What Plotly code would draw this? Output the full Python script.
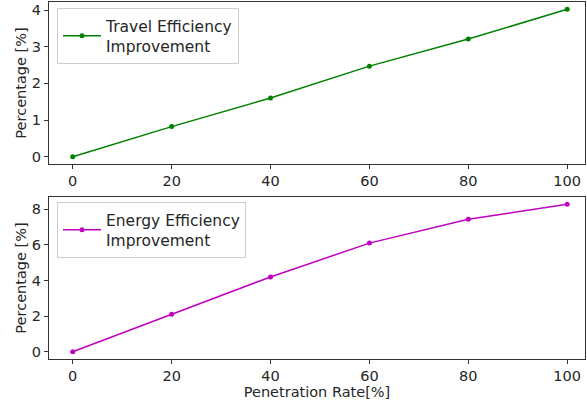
import plotly.graph_objects as go
from plotly.subplots import make_subplots

penetration = [0, 20, 40, 60, 80, 100]
travel_eff = [0.0, 0.82, 1.60, 2.47, 3.21, 4.02]
energy_eff = [0.0, 2.10, 4.20, 6.10, 7.44, 8.28]

W, H = 587, 405
L, R, T, B = 49, 2, 2, 46
ph = H - T - B
pw = W - L - R

def py(y):
    return (H - B - y) / ph

fig = make_subplots(rows=2, cols=1)
fig.add_trace(go.Scatter(x=penetration, y=travel_eff, mode="lines+markers",
                         name="Travel Efficiency<br>Improvement", showlegend=True,
                         line=dict(color="#008000", width=1.5),
                         marker=dict(size=5, color="#008000"),
                         legend="legend"), row=1, col=1)
fig.add_trace(go.Scatter(x=penetration, y=energy_eff, mode="lines+markers",
                         name="Energy Efficiency<br>Improvement", showlegend=True,
                         line=dict(color="#bf00bf", width=1.5),
                         marker=dict(size=5, color="#bf00bf"),
                         legend="legend2"), row=2, col=1)

FS = 14.5
axis_common = dict(showline=True, linecolor="#333333", linewidth=1, mirror=True,
                   ticks="outside", ticklen=4, tickcolor="#333333", showgrid=False,
                   zeroline=False, automargin=False, tickfont=dict(size=FS, color="#262626"))

fig.update_xaxes(**axis_common, range=[-4.8, 103.6], tickvals=[0, 20, 40, 60, 80, 100])
fig.update_yaxes(**axis_common)
fig.update_yaxes(range=[-0.2, 4.22], tickvals=[0, 1, 2, 3, 4], domain=[py(164), py(2)], row=1, col=1,
                 title=dict(text="Percentage [%]", font=dict(size=FS, color="#262626"), standoff=1))
fig.update_yaxes(range=[-0.41, 8.69], tickvals=[0, 2, 4, 6, 8], domain=[py(359), py(197)], row=2, col=1,
                 title=dict(text="Percentage [%]", font=dict(size=FS, color="#262626"), standoff=1))
fig.update_xaxes(row=2, col=1, title=dict(text="Penetration Rate[%]", font=dict(size=FS, color="#262626"), standoff=3))

leg_common = dict(bgcolor="white", bordercolor="#cccccc", borderwidth=1, visible=True,
                  font=dict(size=15.5, color="#262626", family="DejaVu Sans"),
                  xanchor="left", yanchor="top", itemwidth=38)
fig.update_layout(
    width=W, height=H, showlegend=True,
    margin=dict(l=L, r=R, t=T, b=B, autoexpand=False),
    paper_bgcolor="white", plot_bgcolor="white",
    font=dict(family="DejaVu Sans", color="#262626"),
    legend=dict(**leg_common, x=(57 - L) / pw, y=py(8)),
    legend2=dict(**leg_common, x=(57 - L) / pw, y=py(202)),
)

fig.write_html("out.html", config={"displayModeBar": False},
               post_script="document.body.style.margin='0';document.body.style.padding='0';")
